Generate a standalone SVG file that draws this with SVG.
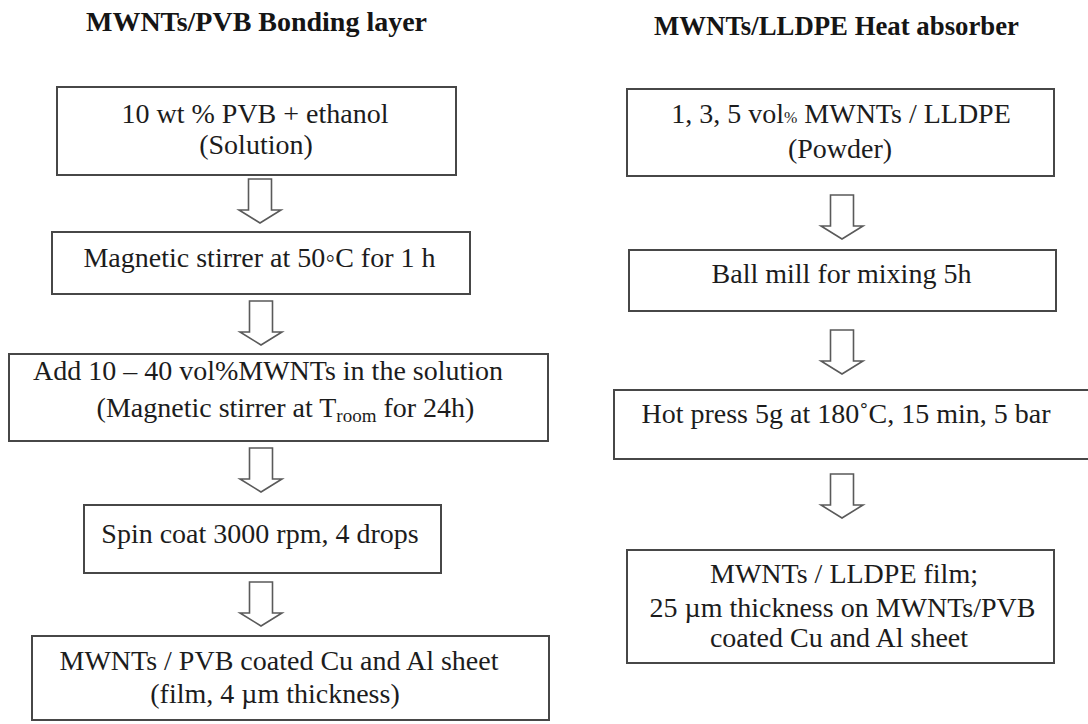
<svg xmlns="http://www.w3.org/2000/svg" width="1088" height="724" viewBox="0 0 1088 724">
  <defs>
    <style>
      .bg { fill: #ffffff; }
      .box { fill: #ffffff; stroke: #474747; stroke-width: 2; }
      .arrow { fill: #ffffff; stroke: #5a5a5a; stroke-width: 1.6; stroke-linejoin: miter; }
      .title { font-family: "Liberation Serif", "Times New Roman", serif; font-weight: bold; font-size: 27.5px; fill: #151515; text-anchor: middle; }
      .lbl { font-family: "Liberation Serif", "Times New Roman", serif; font-size: 28px; fill: #1c1c1c; text-anchor: middle; }
      .sub { font-size: 19px; }
      .small { font-size: 16px; }
    </style>
    <!-- hollow block arrow, origin at top centre of the shaft -->
    <path id="down" class="arrow" d="M -11.5 0 L 11.5 0 L 11.5 31 L 21 31 L 0 44 L -21 31 L -11.5 31 Z"/>
  </defs>

  <rect class="bg" x="0" y="0" width="1088" height="724"/>

  <!-- column headings -->
  <g id="heading-left">
    <text class="title" x="256.5" y="31" textLength="341" lengthAdjust="spacingAndGlyphs">MWNTs/PVB Bonding layer</text>
  </g>
  <g id="heading-right">
    <text class="title" x="836.5" y="35" textLength="365" lengthAdjust="spacingAndGlyphs">MWNTs/LLDPE Heat absorber</text>
  </g>

  <!-- bonding layer steps -->
  <g id="pvb-solution">
    <rect class="box" x="57" y="87" width="399" height="88"/>
    <text class="lbl" x="255" y="123">10 wt % PVB + ethanol</text>
    <text class="lbl" x="256" y="154">(Solution)</text>
  </g>
  <g id="stir-50c">
    <rect class="box" x="52" y="232" width="418" height="62"/>
    <text class="lbl" x="259.5" y="267">Magnetic stirrer at 50◦C for 1 h</text>
  </g>
  <g id="add-mwnts">
    <rect class="box" x="9" y="354" width="539" height="87"/>
    <text class="lbl" x="268" y="380">Add 10 – 40 vol%MWNTs in the solution</text>
    <text class="lbl" x="285.5" y="417">(Magnetic stirrer at T<tspan class="sub" dy="5">room</tspan><tspan dy="-5"> for 24h)</tspan></text>
  </g>
  <g id="spin-coat">
    <rect class="box" x="84" y="505" width="357" height="68"/>
    <text class="lbl" x="260" y="543">Spin coat 3000 rpm, 4 drops</text>
  </g>
  <g id="coated-sheet">
    <rect class="box" x="32" y="636" width="517" height="84"/>
    <text class="lbl" x="279" y="670">MWNTs / PVB coated Cu and Al sheet</text>
    <text class="lbl" x="275" y="703">(film, 4 µm thickness)</text>
  </g>

  <!-- heat absorber steps -->
  <g id="lldpe-powder">
    <rect class="box" x="627" y="89" width="427" height="87"/>
    <text class="lbl" x="841" y="123">1, 3, 5 vol<tspan class="small">%</tspan> MWNTs / LLDPE</text>
    <text class="lbl" x="840" y="158">(Powder)</text>
  </g>
  <g id="ball-mill">
    <rect class="box" x="629" y="250" width="427" height="61"/>
    <text class="lbl" x="841.5" y="283">Ball mill for mixing 5h</text>
  </g>
  <g id="hot-press">
    <rect class="box" x="614" y="390" width="480" height="69"/>
    <text class="lbl" x="846" y="423">Hot press 5g at 180˚C, 15 min, 5 bar</text>
  </g>
  <g id="lldpe-film">
    <rect class="box" x="627" y="550" width="427" height="113"/>
    <text class="lbl" x="844" y="583">MWNTs / LLDPE film;</text>
    <text class="lbl" x="842.5" y="617">25 µm thickness on MWNTs/PVB</text>
    <text class="lbl" x="839" y="647">coated Cu and Al sheet</text>
  </g>

  <!-- flow arrows -->
  <g id="connectors">
    <use href="#down" x="260" y="179"/>
    <use href="#down" x="261" y="301"/>
    <use href="#down" x="261" y="448"/>
    <use href="#down" x="261" y="582"/>
    <use href="#down" x="842" y="195"/>
    <use href="#down" x="842" y="330"/>
    <use href="#down" x="842" y="474"/>
  </g>
</svg>
